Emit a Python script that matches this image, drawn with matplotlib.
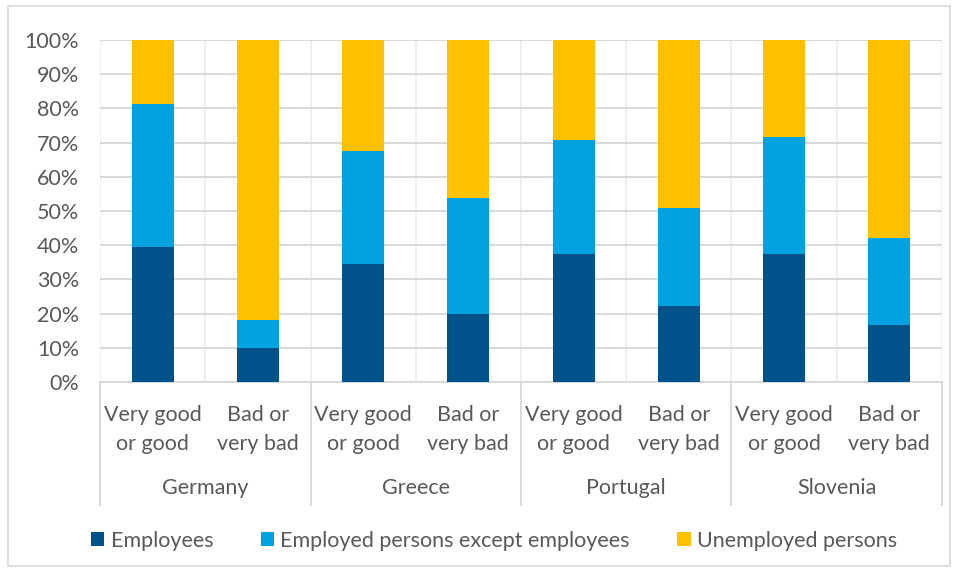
import matplotlib.pyplot as plt
from matplotlib.patches import Rectangle
from matplotlib.ticker import PercentFormatter

plt.rcParams["font.family"] = ["Lato", "DejaVu Sans"]

# Data (shares in %)
countries = ["Germany", "Greece", "Portugal", "Slovenia"]
health = ["Very good\nor good", "Bad or\nvery bad"]

employees = [39.5, 10.0, 34.6, 20.0, 37.3, 22.2, 37.3, 16.8]
employed_other = [41.9, 8.1, 33.0, 33.9, 33.6, 28.7, 34.4, 25.3]
unemployed = [18.6, 81.9, 32.4, 46.1, 29.1, 49.1, 28.3, 57.9]

series_names = ["Employees", "Employed persons except employees", "Unemployed persons"]
colors = ["#00538A", "#00A2E0", "#FFC000"]

text_color = "#595959"
grid_color = "#D9D9D9"
fs = 15.5

fig = plt.figure(figsize=(9.58, 5.72), dpi=100)
ax = fig.add_axes([100 / 958, 190 / 572, 842 / 958, 342 / 572])

n = len(employees)
x = [i + 0.5 for i in range(n)]
bottom = [0] * n
for vals, name, col in zip([employees, employed_other, unemployed], series_names, colors):
    ax.bar(x, vals, width=0.4, bottom=bottom, color=col, label=name, zorder=3)
    bottom = [b + v for b, v in zip(bottom, vals)]

ax.set_xlim(0, n)
ax.set_ylim(0, 100)
ax.set_yticks(range(0, 101, 10))
ax.yaxis.set_major_formatter(PercentFormatter(decimals=0))
ax.set_xticks(x)
ax.set_xticklabels(health * len(countries), linespacing=1.58)
ax.set_xticks(range(n + 1), minor=True)
ax.tick_params(axis="x", which="both", length=0, pad=16.5, labelsize=fs, colors=text_color)
ax.tick_params(axis="y", length=0, pad=15, labelsize=fs, colors=text_color)

ax.grid(axis="y", color=grid_color, linewidth=1.4, zorder=0)
ax.grid(axis="x", which="minor", color="#ECECEC", linewidth=1.2, zorder=0)
ax.grid(axis="x", which="major", visible=False)
for s in ["top", "right", "left"]:
    ax.spines[s].set_visible(False)
ax.spines["bottom"].set_color(grid_color)
ax.spines["bottom"].set_linewidth(1.4)

# country group labels and separators
trans = ax.get_xaxis_transform()
for i, c in enumerate(countries):
    ax.text(2 * i + 1, -106 / 342, c, transform=trans, ha="center", va="center",
            fontsize=fs, color=text_color)
for i in range(len(countries) + 1):
    ax.plot([2 * i, 2 * i], [0, -123 / 342], transform=trans, color=grid_color,
            linewidth=1.4, clip_on=False)

fig.legend(loc="center", bbox_to_anchor=(494 / 958, 1 - 541 / 572), ncol=3,
           frameon=False, fontsize=fs, labelcolor=text_color, handlelength=0.62,
           handleheight=0.62, handletextpad=0.3, columnspacing=2.2)

fig.patches.append(Rectangle((8 / 958, 6 / 572), 942 / 958, 560 / 572, transform=fig.transFigure,
                             fill=False, edgecolor=grid_color, linewidth=1.2))

fig.savefig("out.png", dpi=100)
